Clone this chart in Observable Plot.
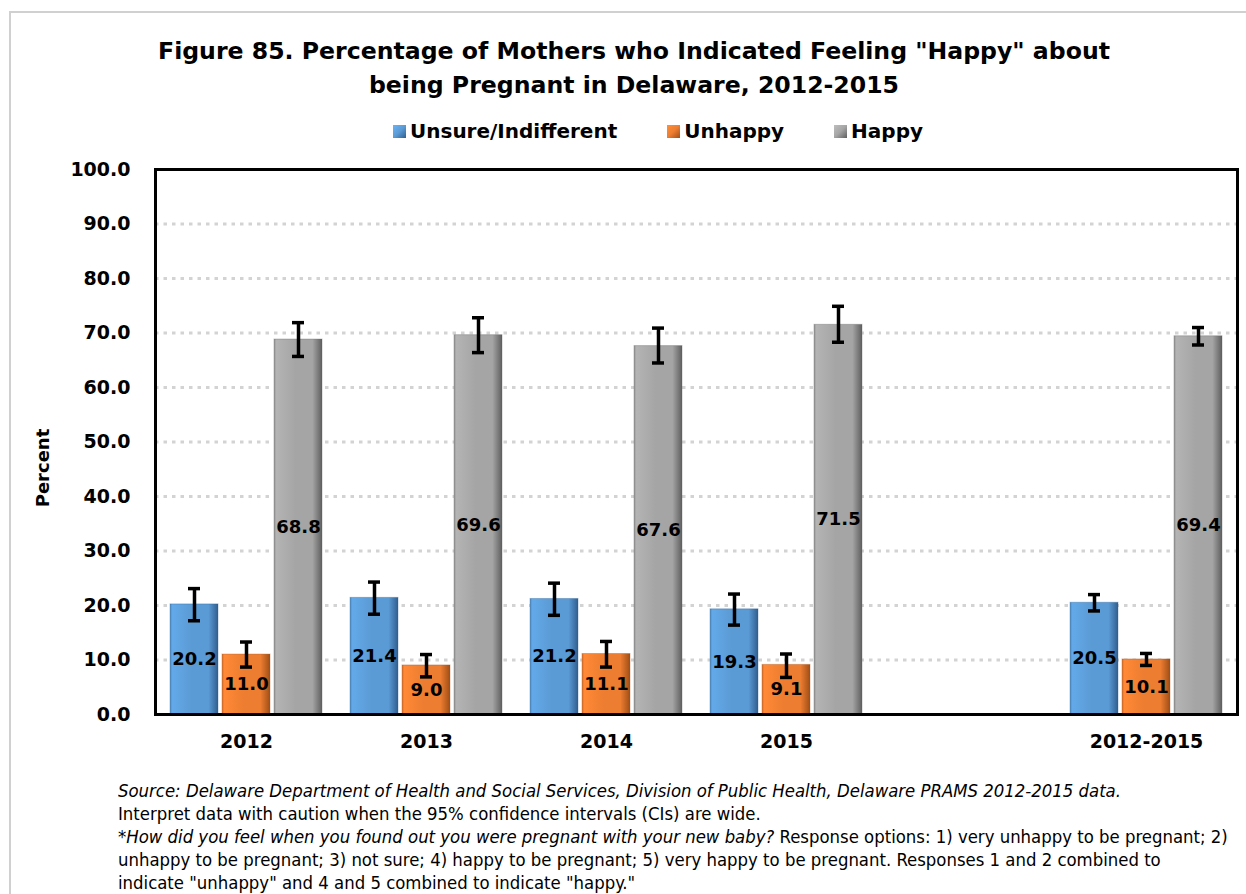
<!DOCTYPE html>
<html>
<head>
<meta charset="utf-8">
<script src="https://cdn.jsdelivr.net/npm/d3@7"></script>
<script src="https://cdn.jsdelivr.net/npm/@observablehq/plot@0.6"></script>
<style>
  body { margin: 0; background: #fff; width: 1246px; height: 894px; overflow: hidden; position: relative; font-family: "DejaVu Sans", sans-serif; color: #000; }
  #border { position: absolute; left: 9px; top: 11px; width: 1400px; height: 1000px; border-left: 2px solid #d0d0d0; border-top: 2px solid #d0d0d0; }
  #title { position: absolute; left: 22px; width: 1224px; top: 34px; text-align: center; font-weight: bold; font-size: 23.6px; line-height: 34px; }
  #legend { position: absolute; top: 120px; left: 393px; display: flex; align-items: center; font-weight: bold; font-size: 20px; line-height: 22px; }
  #legend .item { display: flex; align-items: center; margin-right: 50px; }
  #legend .sw { width: 13px; height: 13px; margin-right: 4px; }
  #ylabel { position: absolute; left: 42px; top: 468px; transform: translate(-50%, -50%) rotate(-90deg); font-weight: bold; font-size: 18px; white-space: nowrap; }
  .layer { position: absolute; left: 0; top: 150px; }
  #foot { position: absolute; left: 118px; top: 780px; font-size: 17.5px; line-height: 23px; white-space: nowrap; font-family: "Liberation Sans Narrow", "DejaVu Sans Condensed", "Roboto", sans-serif; }
  #foot div { height: 23px; }
  #foot span { display: inline-block; transform-origin: left center; }
</style>
</head>
<body>
<div id="border"></div>
<div id="title">Figure 85. Percentage of Mothers who Indicated Feeling "Happy" about<br>being Pregnant in Delaware, 2012-2015</div>
<div id="legend"></div>
<div id="gridLayer" class="layer"></div>
<div id="barLayer" class="layer"></div>
<div id="frameLayer" class="layer"></div>
<div id="ylabel">Percent</div>
<div id="foot">
  <div><span><i>Source: Delaware Department of Health and Social Services, Division of Public Health, Delaware PRAMS 2012-2015 data.</i></span></div>
  <div><span>Interpret data with caution when the 95% confidence intervals (CIs) are wide.</span></div>
  <div><span><i>*How did you feel when you found out you were pregnant with your new baby?</i> Response options: 1) very unhappy to be pregnant; 2)</span></div>
  <div><span>unhappy to be pregnant; 3) not sure; 4) happy to be pregnant; 5) very happy to be pregnant. Responses 1 and 2 combined to</span></div>
  <div><span>indicate "unhappy" and 4 and 5 combined to indicate "happy."</span></div>
</div>
<script>
// ---- data ----
const groups = ["2012", "2013", "2014", "2015", "2012-2015"];
const axisGroups = ["2012", "2013", "2014", "2015", "", "2012-2015"];
const series = ["Unsure/Indifferent", "Unhappy", "Happy"];
const unsure   = [20.2, 21.4, 21.2, 19.3, 20.5];
const unsureLo = [17.2, 18.4, 18.2, 16.4, 19.0];
const unsureHi = [23.1, 24.3, 24.1, 22.1, 22.0];
const unhappy   = [11.0, 9.0, 11.1, 9.1, 10.1];
const unhappyLo = [8.7, 6.9, 8.7, 6.8, 9.0];
const unhappyHi = [13.3, 11.0, 13.4, 11.1, 11.2];
const happy   = [68.8, 69.6, 67.6, 71.5, 69.4];
const happyLo = [65.7, 66.4, 64.5, 68.3, 67.8];
const happyHi = [71.9, 72.8, 70.9, 74.9, 71.0];
const yTicks = [0, 10, 20, 30, 40, 50, 60, 70, 80, 90, 100];
const colors = ["#5B9BD5", "#ED7D31", "#A5A5A5"];
const edgeColors = ["#2F5F8F", "#A04E16", "#5F5F5F"];

// ---- table built from arrays ----
const vals = [unsure, unhappy, happy], los = [unsureLo, unhappyLo, happyLo], his = [unsureHi, unhappyHi, happyHi];
const rows = [];
groups.forEach((g, i) => series.forEach((s, j) => rows.push({group: g, series: s, si: j, value: vals[j][i], lo: los[j][i], hi: his[j][i]})));

const gradId = j => `grad${j}`;
const common = {
  width: 1246, height: 620, marginTop: 19, marginBottom: 56, marginLeft: 155, marginRight: 9,
  style: {fontFamily: "DejaVu Sans, sans-serif", fontSize: "19px", fontWeight: "bold", color: "#000", background: "transparent", overflow: "visible"},
  y: {domain: [0, 100], axis: null}
};

// layer 1: dotted grid
const gridPlot = Plot.plot({
  ...common,
  marks: [Plot.ruleY(yTicks.slice(1), {stroke: "#d3d3d3", strokeWidth: 3, strokeDasharray: "3.5,5"})]
});
document.getElementById("gridLayer").appendChild(gridPlot);

// layer 2: faceted bars
const barPlot = Plot.plot({
  ...common,
  fx: {domain: axisGroups, paddingInner: 0.155, paddingOuter: 0.07, axis: "bottom", tickSize: 0, tickPadding: 20, label: null},
  x: {domain: series, paddingInner: 0.077, paddingOuter: 0, axis: null},
  marks: [
    ...series.map((s, j) => Plot.barY(rows.filter(r => r.si === j), {fx: "group", x: "series", y: "value", fill: `url(#${gradId(j)})`, stroke: edgeColors[j], strokeOpacity: 0.35, strokeWidth: 1})),
    Plot.text(rows, {fx: "group", x: "series", y: d => d.value / 2, text: d => d.value.toFixed(1), fontSize: 18, fontWeight: "bold", fill: "#000"}),
    Plot.ruleX(rows, {fx: "group", x: "series", y1: "lo", y2: "hi", stroke: "#000", strokeWidth: 3.5}),
    Plot.tickY(rows, {fx: "group", x: "series", y: "lo", stroke: "#000", strokeWidth: 3.5, insetLeft: 18, insetRight: 18}),
    Plot.tickY(rows, {fx: "group", x: "series", y: "hi", stroke: "#000", strokeWidth: 3.5, insetLeft: 18, insetRight: 18})
  ]
});
const defs = d3.select(barPlot).insert("defs", ":first-child");
colors.forEach((c, j) => {
  const lg = defs.append("linearGradient").attr("id", gradId(j)).attr("x1", "0").attr("x2", "1").attr("y1", "0").attr("y2", "0");
  const light = d3.color(c).brighter(0.25).formatHex();
  [[0, d3.color(c).darker(0.3).formatHex()], [0.05, light], [0.45, c], [0.8, c], [1, edgeColors[j]]].forEach(([o, col]) =>
    lg.append("stop").attr("offset", o).attr("stop-color", col));
});
document.getElementById("barLayer").appendChild(barPlot);

// layer 3: frame and y axis on top
const framePlot = Plot.plot({
  ...common,
  marks: [
    Plot.axisY(yTicks, {anchor: "left", tickSize: 0, tickPadding: 25, tickFormat: d => d.toFixed(1), fontSize: 19, fontWeight: "bold", label: null}),
    Plot.frame({stroke: "#000", strokeWidth: 3})
  ]
});
document.getElementById("frameLayer").appendChild(framePlot);

// legend
const legend = d3.select("#legend");
series.forEach((s, j) => {
  const it = legend.append("div").attr("class", "item");
  it.append("div").attr("class", "sw").style("background", `linear-gradient(135deg, ${d3.color(colors[j]).brighter(0.4)} 0%, ${colors[j]} 50%, ${edgeColors[j]} 100%)`);
  it.append("span").text(s);
});

// fit footer lines to the reference width (first line spans ~1003px)
const spans = document.querySelectorAll("#foot span");
const k = 1003 / spans[0].getBoundingClientRect().width;
spans.forEach(s => s.style.transform = `scaleX(${k})`);
</script>
</body>
</html>
